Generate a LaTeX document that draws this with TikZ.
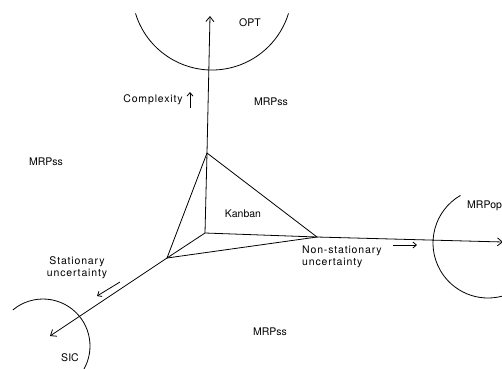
\documentclass[tikz,border=0pt]{standalone}
\usepackage{fontspec}
\setmainfont{TeX Gyre Heros}
\newfontfamily\tracked[LetterSpace=8]{TeX Gyre Heros}
\usetikzlibrary{arrows.meta}
\begin{document}
\begin{tikzpicture}[x=1pt,y=-1pt,
  line/.style={line width=0.8pt},
  axisarrow/.style={line width=0.8pt,-{Straight Barb[length=5pt,width=8pt,line width=0.8pt]}},
  hintarrow/.style={line width=0.8pt,-{Straight Barb[length=3.5pt,width=6pt,line width=0.8pt]}},
  region/.style={font=\fontsize{10.5}{12}\selectfont},
  axislabel/.style={font=\tracked\fontsize{10.5}{12}\selectfont,inner sep=0pt}]
\useasboundingbox (0,0) rectangle (502,368);
\clip (0,0) rectangle (502,368);

% corners of the Kanban pyramid
\coordinate (O) at (205,233);
\coordinate (T) at (207,153);
\coordinate (R) at (317,237);
\coordinate (L) at (167,258);
% axis ends
\coordinate (Zend) at (210,16);
\coordinate (Xend) at (503,242);
\coordinate (Yend) at (50,336);

% axes
\draw[line] (O) -- (T);
\draw[axisarrow] (T) -- (Zend);
\draw[line] (O) -- (R);
\draw[axisarrow] (R) -- (Xend);
\draw[line] (O) -- (L);
\draw[axisarrow] (L) -- (Yend);
% front faces
\draw[line] (T) -- (R) -- (L) -- cycle;

% extreme regions
\draw[line] (212,-10) ++(163:80) arc[start angle=163,end angle=17,radius=80];
\draw[line] (43,346) ++(230:47) arc[start angle=230,end angle=400,radius=47];
\draw[line] (488,243) ++(240:55) arc[start angle=240,end angle=75,radius=55];

% region names
\node[region] (opt) at (250,23) {OPT};
\node[region] (mrpN) at (271,102) {MRPss};
\node[region] (mrpW) at (46,162) {MRPss};
\node[region] (kanban) at (243,214) {Kanban};
\node[region] (mrpS) at (270,332) {MRPss};
\node[region] (sic) at (70,358) {SIC};
\node[region,anchor=west,inner sep=0pt] (mrpop) at (467,206) {MRPop};

% axis names
\node[axislabel] (cplx) at (153,100) {Complexity};
\coordinate (cA) at (190,108);
\coordinate (cB) at (190,92);
\draw[hintarrow] (cA) -- (cB);

\node[axislabel,align=left,anchor=north west] (nonstat) at (302,246) {Non-stationary\\uncertainty};
\coordinate (nA) at (393,245);
\coordinate (nB) at (417,245);
\draw[hintarrow] (nA) -- (nB);

\node[axislabel,align=center] (stat) at (77,268) {Stationary\\uncertainty};
\coordinate (sA) at (120,282);
\coordinate (sB) at (97,296);
\draw[hintarrow] (sA) -- (sB);
\end{tikzpicture}
\end{document}
